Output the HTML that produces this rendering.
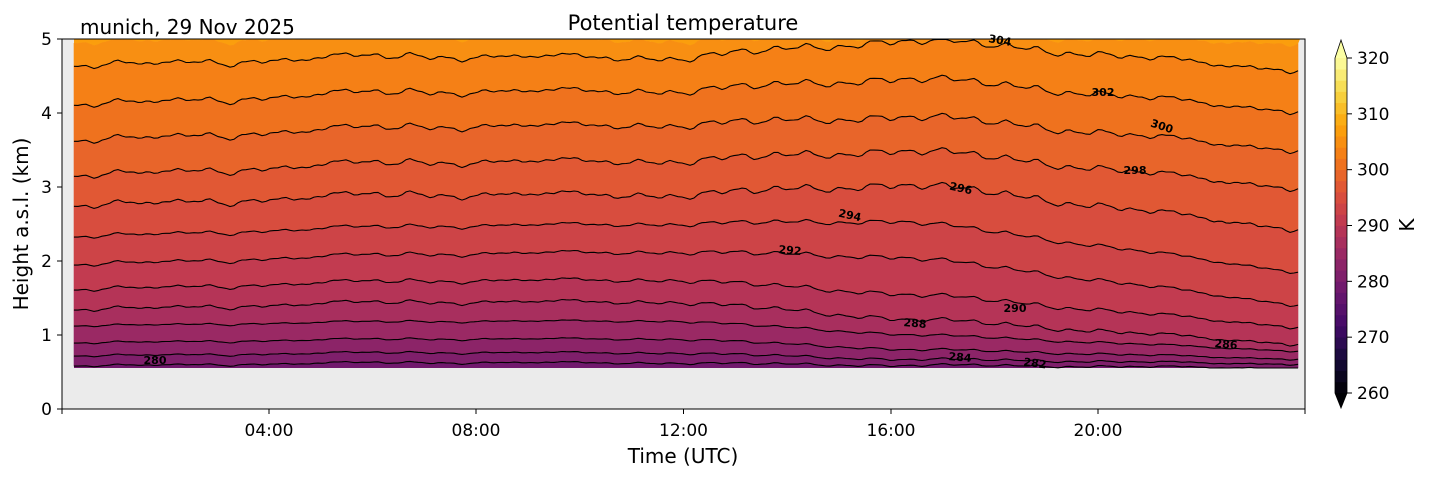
<!DOCTYPE html>
<html><head><meta charset="utf-8"><style>
body{margin:0;background:#fff;}
svg text{font-family:"DejaVu Sans","Liberation Sans",sans-serif;}
</style></head><body>
<svg id="s" width="1429" height="478" xmlns="http://www.w3.org/2000/svg">
<rect x="62" y="39" width="1243" height="370" fill="#ebebeb"/>
<g id="fills"></g><g id="lines"></g><g id="labs"></g>
<rect x="62" y="39" width="1243" height="370" fill="none" stroke="#000" stroke-width="1"/>
<g id="ax" fill="#000"></g>
<g id="cb"></g>
<text x="683" y="30" font-size="21" text-anchor="middle">Potential temperature</text>
<text x="80" y="34" font-size="20" >munich, 29 Nov 2025</text>
<text x="683" y="463" font-size="20" text-anchor="middle">Time (UTC)</text>
<text transform="translate(28,224) rotate(-90)" font-size="20" text-anchor="middle">Height a.s.l. (km)</text>
<text transform="translate(1414,225) rotate(-90)" font-size="20" text-anchor="middle">K</text>
</svg>
<script>
(function(){
const NS="http://www.w3.org/2000/svg";
function el(p,t,a,txt){const e=document.createElementNS(NS,t);for(const k in a)e.setAttribute(k,a[k]);if(txt!==undefined)e.textContent=txt;document.getElementById(p).appendChild(e);return e;}
const inf=[[0,0,4],[22,11,57],[66,10,104],[106,23,110],[147,38,103],[188,55,84],[221,81,58],[243,120,25],[252,165,10],[246,215,70],[252,255,164]];
function col(v){let t=Math.max(0,Math.min(1,(v-260)/60))*10;let i=Math.min(9,Math.floor(t)),f=t-i;const a=inf[i],b=inf[i+1];return "rgb("+a.map((c,k)=>Math.round(c+(b[k]-c)*f)).join(",")+")";}
const cx=[74,680,900,1300];
const lv={306:[40,38,38,40],304:[63,55,42,67],302:[102,88,80,108],300:[138,122,118,147],298:[173,158,152,185],296:[203,192,186,226],294:[235,222,222,270],292:[263,250,258,303],290:[288,278,295,325],288:[308,300,320,342],286:[325,320,335,350],284:[342,338,350,358],282:[355,352,360,363],280:[365,362,366,367]};
function noise(x){return Math.sin(x*0.031)*0.5+Math.sin(x*0.083+1.3)*0.35+Math.sin(x*0.19+2.1)*0.3+Math.sin(x*0.41+0.7)*0.2+Math.sin(x*0.011+0.4)*0.6+Math.sin(x*0.137+x*x*0.00003)*0.3;}
function yAt(L,x){const p=lv[L];let i=0;while(i<2&&x>cx[i+1])i++;const f=(x-cx[i])/(cx[i+1]-cx[i]);let y=p[i]+(p[i+1]-p[i])*f;const amp=L>=296?4:L>=288?2.5:1.3;y+=noise(x)*amp;return Math.max(39.5,Math.min(368,y));}
const xs=[];for(let x=74;x<=1300;x+=4)xs.push(x);
function pts(L){return xs.map(x=>[x,yAt(L,x)]);}
const levels=[306,304,302,300,298,296,294,292,290,288,286,284,282,280];
const tp=pts(306);
let d="M74,39 L1300,39 "+tp.slice().reverse().map(p=>"L"+p[0]+","+p[1].toFixed(1)).join(" ")+"Z";
el("fills","path",{d:d,fill:col(307)});
for(let i=0;i<levels.length-1;i++){const a=pts(levels[i]),b=pts(levels[i+1]);
 d="M"+a.map(p=>p[0]+","+p[1].toFixed(1)).join(" L")+" L"+b.slice().reverse().map(p=>p[0]+","+p[1].toFixed(1)).join(" L")+"Z";
 el("fills","path",{d:d,fill:col(levels[i]-1),stroke:col(levels[i]-1),"stroke-width":0.6});}
const bot=pts(280);
d="M"+bot.map(p=>p[0]+","+p[1].toFixed(1)).join(" L")+" L1300,368 L74,368Z";
el("fills","path",{d:d,fill:col(279)});
for(const L of levels){if(L==306)continue;const a=pts(L);el("lines","path",{d:"M"+a.map(p=>p[0]+","+p[1].toFixed(1)).join(" L"),fill:"none",stroke:"#000","stroke-width":1.1});}
const labs=[[155,360,"280",0],[1035,363,"282",8],[960,357,"284",5],[1226,344,"286",5],[915,323,"288",5],[1015,308,"290",0],[790,250,"292",5],[850,215,"294",12],[961,188,"296",12],[1135,170,"298",0],[1162,126,"300",18],[1103,92,"302",0],[1000,40,"304",10]];
for(const l of labs)el("labs","text",{x:l[0],y:l[1]+4,"font-size":11,"font-weight":"bold","text-anchor":"middle",transform:"rotate("+l[3]+" "+l[0]+" "+l[1]+")"},l[2]);
for(let k=0;k<=5;k++){const y=409-74*k;el("ax","line",{x1:57,x2:62,y1:y,y2:y,stroke:"#000"});el("ax","text",{x:52,y:y+6,"text-anchor":"end","font-size":17},String(k));}
const xt=[[62,""],[269,"04:00"],[476,"08:00"],[683.5,"12:00"],[891,"16:00"],[1098,"20:00"],[1305,""]];
for(const t of xt){el("ax","line",{x1:t[0],x2:t[0],y1:409,y2:414,stroke:"#000"});if(t[1])el("ax","text",{x:t[0],y:436,"text-anchor":"middle","font-size":17},t[1]);}
const y0=393,y1=58,h=(y0-y1)/30;
for(let i=0;i<30;i++){el("cb","rect",{x:1335,y:(y0-(i+1)*h).toFixed(2),width:12,height:(h+0.4).toFixed(2),fill:col(261+2*i)});}
el("cb","path",{d:"M1335,58 L1341,40 L1347,58Z",fill:"#fcffa4"});
el("cb","path",{d:"M1335,393 L1341,408 L1347,393Z",fill:"#000004"});
el("cb","path",{d:"M1335,58 L1341,40 L1347,58 L1347,393 L1341,408 L1335,393Z",fill:"none",stroke:"#000","stroke-width":0.8});
for(let k=0;k<=6;k++){const y=393-k*(335/6);el("cb","line",{x1:1347,x2:1352,y1:y,y2:y,stroke:"#000"});el("cb","text",{x:1357,y:y+6,"font-size":17},String(260+10*k));}
})();
</script>
</body></html>
